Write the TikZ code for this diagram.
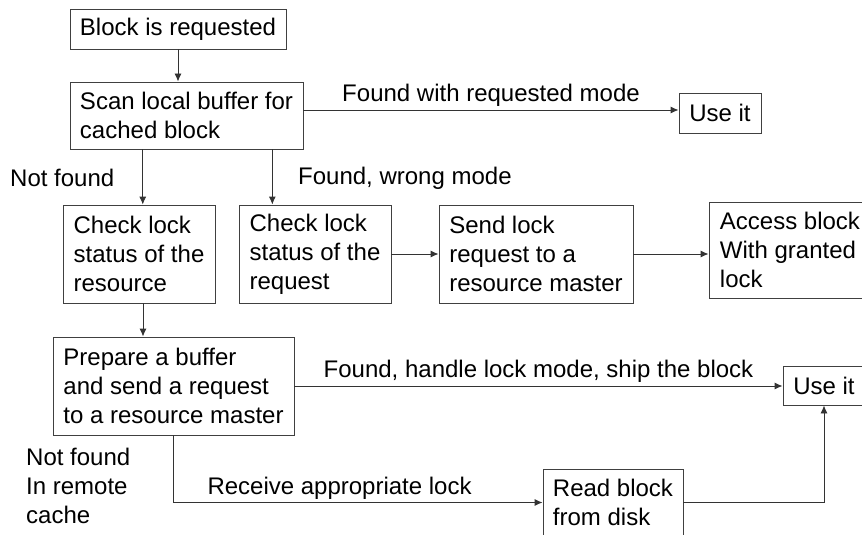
\documentclass[tikz,border=0pt]{standalone}
\usepackage{fontspec}
\setmainfont{Liberation Sans}
\usetikzlibrary{arrows.meta,calc}

\tikzset{
	box/.style={draw=black!75, line width=0.9pt, rectangle, align=left, inner sep=0pt,
		font=\fontsize{24}{29}\selectfont},
	flow/.style={draw=black!80, line width=0.9pt, -{Latex[length=8pt,width=7pt]}},
	lbl/.style={font=\fontsize{24}{29}\selectfont, align=left, inner sep=3pt}
}

\begin{document}
\begin{tikzpicture}[x=1pt,y=-1pt]
		\path[use as bounding box, clip] (0,0) rectangle (862,535);

		% Boxes
		\node[box, minimum width=216pt, minimum height=40pt] (blk) at (178,29) {Block is requested};
		\node[box, minimum width=233pt, minimum height=67pt] (scan) at (186.5,115.5) {Scan local buffer for\\cached block};
		\node[box, minimum width=82pt, minimum height=40pt] (useA) at (720,113) {Use it};
		\node[box, minimum width=152pt, minimum height=98pt] (chkres) at (139,254) {Check lock\\status of the\\resource};
		\node[box, minimum width=152pt, minimum height=98pt] (chkreq) at (315,254) {Check lock\\status of the\\request};
		\node[box, minimum width=194pt, minimum height=98pt] (send) at (536,254) {Send lock\\request to a\\resource master};
		\node[box, minimum width=162pt, minimum height=96pt] (access) at (790,250) {Access block\\With granted\\lock};
		\node[box, minimum width=241pt, minimum height=98pt] (prep) at (173.5,386) {Prepare a buffer\\and send a request\\to a resource master};
		\node[box, minimum width=82pt, minimum height=39pt] (useB) at (824,385.5) {Use it};
		\node[box, minimum width=140pt, minimum height=67pt] (readb) at (613,502.5) {Read block\\from disk};

		% Free labels
		\node[lbl, anchor=west] (nf) at (7,178) {Not found};
		\node[lbl, anchor=west] (fwm) at (295,178) {Found, wrong mode};
		\node[lbl, anchor=west] (nfr) at (23,486) {Not found\\In remote\\cache};

		% Connectors
		\coordinate (fa) at ([yshift=5.5pt]scan.east);
		\coordinate (s1) at ($(scan.south west)!0.313!(scan.south east)$);
		\coordinate (s2) at ($(scan.south west)!0.867!(scan.south east)$);
		\coordinate (r1) at ([xshift=4pt]chkres.south);

		\draw[flow] (blk.south) -- (blk.south |- scan.north);
		\draw[flow] (fa) -- (fa -| useA.west) node[lbl, midway, above] {Found with requested mode};
		\draw[flow] (s1) -- (s1 |- chkres.north);
		\draw[flow] (s2) -- (s2 |- chkreq.north);
		\draw[flow] (chkreq.east) -- (chkreq.east -| send.west);
		\draw[flow] (send.east) -- (send.east -| access.west);
		\draw[flow] (r1) -- (r1 |- prep.north);
		\draw[flow] (prep.east) -- (prep.east -| useB.west) node[lbl, midway, above] {Found, handle lock mode, ship the block};
		\draw[flow] (prep.south) |- (readb.west) node[lbl, pos=0.725, above] {Receive appropriate lock};
		\draw[flow] (readb.east) -| (useB.south);
\end{tikzpicture}
\end{document}
